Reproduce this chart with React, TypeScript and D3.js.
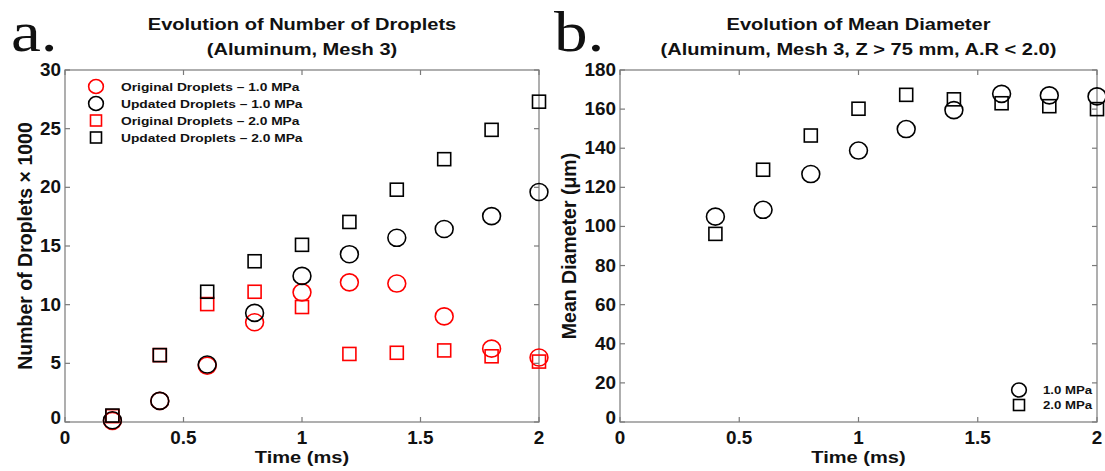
import React from "react";
import * as d3 from "d3";

const times = [0.2, 0.4, 0.6, 0.8, 1.0, 1.2, 1.4, 1.6, 1.8, 2.0];
const origDroplets10 = [0.1, 1.8, 4.8, 8.5, 11.05, 11.9, 11.8, 9.0, 6.25, 5.5];
const updDroplets10 = [0.15, 1.8, 4.9, 9.3, 12.45, 14.3, 15.7, 16.45, 17.55, 19.6];
const origDroplets20 = [0.5, 5.7, 10.05, 11.1, 9.8, 5.8, 5.9, 6.1, 5.6, 5.15];
const updDroplets20 = [0.55, 5.7, 11.1, 13.7, 15.1, 17.05, 19.8, 22.4, 24.9, 27.3];

const diamTimes = [0.4, 0.6, 0.8, 1.0, 1.2, 1.4, 1.6, 1.8, 2.0];
const diam10 = [105, 108.5, 126.8, 138.8, 149.8, 159.5, 167.8, 167.0, 166.5];
const diam20 = [96.2, 129, 146.5, 160.2, 167.3, 165, 163, 161.5, 160];

const xTicks = [0, 0.5, 1, 1.5, 2];
const yTicksA = [0, 5, 10, 15, 20, 25, 30];
const yTicksB = [0, 20, 40, 60, 80, 100, 120, 140, 160, 180];

const legendA = [
  { label: "Original Droplets \u2013 1.0 MPa", shape: "circle", color: "#ff0000" },
  { label: "Updated Droplets \u2013 1.0 MPa", shape: "circle", color: "#000000" },
  { label: "Original Droplets \u2013 2.0 MPa", shape: "square", color: "#ff0000" },
  { label: "Updated Droplets \u2013 2.0 MPa", shape: "square", color: "#000000" },
];
const legendB = [
  { label: "1.0 MPa", shape: "circle", color: "#000000" },
  { label: "2.0 MPa", shape: "square", color: "#000000" },
];

const FONT = "'Liberation Sans', Arial, Helvetica, sans-serif";
const SERIF = "'Liberation Serif', 'DejaVu Serif', serif";
const AXIS = "#7a7a7a";
const INK = "#111";
const R = 8.5;
const S = 13;

function T({ x, y, sx = 1.15, size = 17, anchor = "start", weight = "bold", family = FONT, children }: any) {
  return (
    <text
      transform={`translate(${x},${y}) scale(${sx},1)`}
      textAnchor={anchor}
      fontFamily={family}
      fontWeight={weight}
      fontSize={size}
      fill={INK}
    >
      {children}
    </text>
  );
}

function Marker({ shape, x, y, color, r = R, s = S, sw = 1.6 }: any) {
  if (shape === "circle")
    return <ellipse cx={x} cy={y} rx={r * 1.05} ry={r} fill="none" stroke={color} strokeWidth={sw} />;
  return <rect x={x - s / 2} y={y - s / 2} width={s} height={s} fill="none" stroke={color} strokeWidth={sw} />;
}

function Axes({ x, y, yTicks, fmt }: any) {
  const [x0, x1] = x.range();
  const [y0, y1] = y.range();
  const tl = 5;
  return (
    <g>
      <rect x={x0} y={y1} width={x1 - x0} height={y0 - y1} fill="none" stroke={AXIS} strokeWidth={1.2} />
      {xTicks.map((t) => (
        <g key={"x" + t}>
          <line x1={x(t)} x2={x(t)} y1={y0} y2={y0 - tl} stroke={AXIS} strokeWidth={1.2} />
          <line x1={x(t)} x2={x(t)} y1={y1} y2={y1 + tl} stroke={AXIS} strokeWidth={1.2} />
          <T x={x(t)} y={y0 + 22} anchor="middle" size={17.5} sx={1.08}>{fmt(t)}</T>
        </g>
      ))}
      {yTicks.map((t: number) => (
        <g key={"y" + t}>
          <line x1={x0} x2={x0 + tl} y1={y(t)} y2={y(t)} stroke={AXIS} strokeWidth={1.2} />
          <line x1={x1} x2={x1 - tl} y1={y(t)} y2={y(t)} stroke={AXIS} strokeWidth={1.2} />
          <T x={x0 - 4} y={y(t) + (t === 0 ? 2 : 6)} anchor="end" size={17.5} sx={1.08}>{fmt(t)}</T>
        </g>
      ))}
    </g>
  );
}

export default function App() {
  const xa = d3.scaleLinear().domain([0, 2]).range([65, 539]);
  const ya = d3.scaleLinear().domain([0, 30]).range([422, 70]);
  const xb = d3.scaleLinear().domain([0, 2]).range([620, 1097]);
  const yb = d3.scaleLinear().domain([0, 180]).range([422, 70]);
  const fmt = (v: number) => d3.format("~g")(v);

  const seriesA = [
    { data: origDroplets10, shape: "circle", color: "#ff0000" },
    { data: updDroplets10, shape: "circle", color: "#000000" },
    { data: origDroplets20, shape: "square", color: "#ff0000" },
    { data: updDroplets20, shape: "square", color: "#000000" },
  ];
  const seriesB = [
    { data: diam10, shape: "circle", color: "#000000" },
    { data: diam20, shape: "square", color: "#000000" },
  ];

  const cA = (65 + 539) / 2;
  const cB = (620 + 1097) / 2;
  const cY = (70 + 422) / 2;

  return (
    <svg width={1105} height={471} style={{ position: "absolute", left: 0, top: 0, background: "#fff" }}>
      {/* Panel a */}
      <T x={11} y={51} size={56} sx={1.2} weight="normal" family={SERIF}>a.</T>
      <T x={cA} y={30} anchor="middle" size={17} sx={1.18}>Evolution of Number of Droplets</T>
      <T x={cA} y={55} anchor="middle" size={17} sx={1.18}>(Aluminum, Mesh 3)</T>
      <Axes x={xa} y={ya} yTicks={yTicksA} fmt={fmt} />
      <T x={cA} y={463} anchor="middle" size={17} sx={1.18}>Time (ms)</T>
      <text
        transform={`translate(32,${cY}) rotate(-90)`}
        textAnchor="middle"
        fontFamily={FONT}
        fontWeight="bold"
        fontSize={19.5}
        fill={INK}
      >
        Number of Droplets {"\u00d7"} 1000
      </text>
      {seriesA.map((s, si) => (
        <g key={"sa" + si}>
          {s.data.map((v, i) => (
            <Marker key={i} shape={s.shape} color={s.color} x={xa(times[i])} y={ya(v)} />
          ))}
        </g>
      ))}
      {legendA.map((l, i) => (
        <g key={"la" + i}>
          <Marker shape={l.shape} color={l.color} x={96} y={86.5 + i * 17} r={7} s={11} />
          <T x={121} y={86.5 + i * 17 + 4} size={11.5} sx={1.2}>{l.label}</T>
        </g>
      ))}

      {/* Panel b */}
      <T x={554} y={51} size={56} sx={1.2} weight="normal" family={SERIF}>b.</T>
      <T x={cB} y={30} anchor="middle" size={17} sx={1.18}>Evolution of Mean Diameter</T>
      <T x={cB} y={55} anchor="middle" size={17} sx={1.18}>(Aluminum, Mesh 3, Z &gt; 75 mm, A.R &lt; 2.0)</T>
      <Axes x={xb} y={yb} yTicks={yTicksB} fmt={fmt} />
      <T x={cB} y={463} anchor="middle" size={17} sx={1.18}>Time (ms)</T>
      <text
        transform={`translate(576,${cY}) rotate(-90)`}
        textAnchor="middle"
        fontFamily={FONT}
        fontWeight="bold"
        fontSize={19.5}
        fill={INK}
      >
        Mean Diameter ({"\u03bc"}m)
      </text>
      {seriesB.map((s, si) => (
        <g key={"sb" + si}>
          {s.data.map((v, i) => (
            <Marker key={i} shape={s.shape} color={s.color} x={xb(diamTimes[i])} y={yb(v)} />
          ))}
        </g>
      ))}
      {legendB.map((l, i) => (
        <g key={"lb" + i}>
          <Marker shape={l.shape} color={l.color} x={1019} y={390 + i * 15} r={7} s={11} />
          <T x={1043} y={390 + i * 15 + 4} size={11.5} sx={1.15}>{l.label}</T>
        </g>
      ))}
    </svg>
  );
}
